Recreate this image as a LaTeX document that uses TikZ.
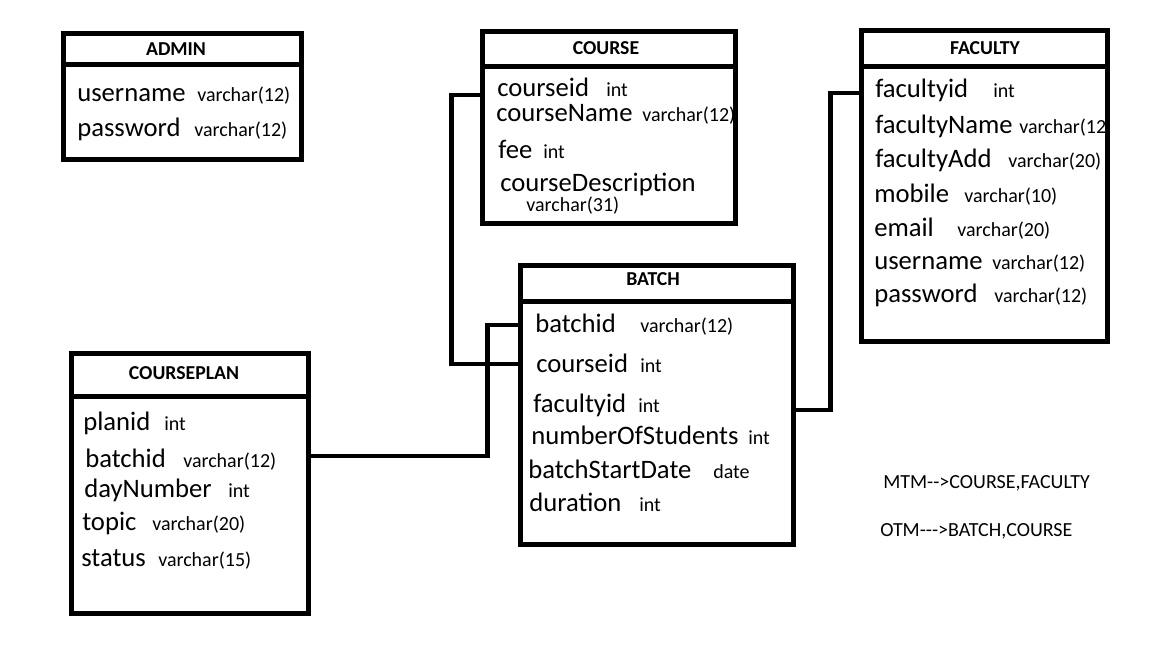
\documentclass[tikz,border=0pt]{standalone}
\usepackage{fontspec}
\setmainfont{Carlito}
\usetikzlibrary{fit}

\tikzset{
  tbl/.style={draw, line width=3.75pt, inner sep=0pt},
  sep/.style={line width=3.75pt},
  link/.style={line width=3.6pt},
  head/.style={anchor=base, inner sep=0pt, font=\bfseries\fontsize{14.8}{17}\selectfont},
  fld/.style={anchor=base west, inner sep=0pt, font=\fontsize{20}{24}\selectfont},
  typ/.style={anchor=base west, inner sep=0pt, font=\fontsize{15}{18}\selectfont},
  note/.style={anchor=base west, inner sep=0pt, font=\fontsize{15}{18}\selectfont},
}

\begin{document}
\begin{tikzpicture}[x=0.75pt,y=-0.75pt]
\useasboundingbox (0,0) rectangle (1152,648);
% ADMIN
\node[tbl, fit={(63,34) (301,160)}] (admin) {};
\draw[sep] (admin.west |- 0,65) -- (admin.east |- 0,65);
\node[head] (admin-h) at (176,56) {ADMIN};
\foreach \nm/\fx/\by/\tx/\t in {username/77/102/197/varchar(12),password/77/137/194/varchar(12)}{
	\node[fld] (admin-\nm) at (\fx,\by) {\nm};
	\node[typ] (admin-\nm-t) at (\tx,\by) {\t};}
% COURSE
\node[tbl, fit={(482,32) (735,224)}] (course) {};
\draw[sep] (course.west |- 0,67) -- (course.east |- 0,67);
\node[head] (course-h) at (606,55) {COURSE};
\foreach \nm/\fx/\by/\tx/\t in {courseid/497/97/606/int,courseName/496/122/642/varchar(12),fee/498/159/543/int}{
	\node[fld] (course-\nm) at (\fx,\by) {\nm};
	\node[typ] (course-\nm-t) at (\tx,\by) {\t};}
\node[fld] (course-desc) at (500,192) {courseDescription};
\node[typ] (course-desc-t) at (526,212) {varchar(31)};
% FACULTY (text first, the border covers the long type)
\foreach \nm/\fx/\by/\tx/\t in {facultyid/875/98/993/int,facultyName/875/134/1019/varchar(12),facultyAdd/875/168/1008/varchar(20),mobile/874/203/964/varchar(10),email/874/237/957/varchar(20),username/874/270/992/varchar(12),password/874/303/994/varchar(12)}{
	\node[fld] (faculty-\nm) at (\fx,\by) {\nm};
	\node[typ] (faculty-\nm-t) at (\tx,\by) {\t};}
\fill[white] (1109,120) rectangle (1152,140);
\node[tbl, fit={(861,31) (1107,342)}] (faculty) {};
\draw[sep] (faculty.west |- 0,67) -- (faculty.east |- 0,67);
\node[head] (faculty-h) at (985,55) {FACULTY};
% BATCH
\node[tbl, fit={(520,266) (793,544)}] (batch) {};
\draw[sep] (batch.west |- 0,302) -- (batch.east |- 0,302);
\node[head] (batch-h) at (653,286) {BATCH};
\foreach \nm/\fx/\by/\tx/\t in {batchid/535/333/640/varchar(12),courseid/536/373/640/int,facultyid/533/412/638/int,numberOfStudents/531/444/748/int,batchStartDate/528/478/713/date,duration/529/511/639/int}{
	\node[fld] (batch-\nm) at (\fx,\by) {\nm};
	\node[typ] (batch-\nm-t) at (\tx,\by) {\t};}
% COURSEPLAN
\node[tbl, fit={(71,353) (308,613)}] (plan) {};
\draw[sep] (plan.west |- 0,396) -- (plan.east |- 0,396);
\node[head] (plan-h) at (184,379) {COURSEPLAN};
\foreach \nm/\fx/\by/\tx/\t in {planid/83/430/164/int,batchid/85/467/183/varchar(12),dayNumber/84/497/228/int,topic/82/530/152/varchar(20),status/81/566/158/varchar(15)}{
	\node[fld] (plan-\nm) at (\fx,\by) {\nm};
	\node[typ] (plan-\nm-t) at (\tx,\by) {\t};}
% links
\draw[link] (course.west |- 0,95) -- ++(-28,0) |- (batch.west |- 0,364);
\draw[link] (plan.east |- 0,456) -- ++(177,0) |- (batch.west |- 0,325);
\draw[link] (batch.east |- 0,410) -- ++(35,0) |- (faculty.west |- 0,93);
% notes
\node[note] (mtm) at (883,488) {MTM-{}->COURSE,FACULTY};
\node[note] (otm) at (880,536) {OTM-{}-{}->BATCH,COURSE};
\end{tikzpicture}
\end{document}
